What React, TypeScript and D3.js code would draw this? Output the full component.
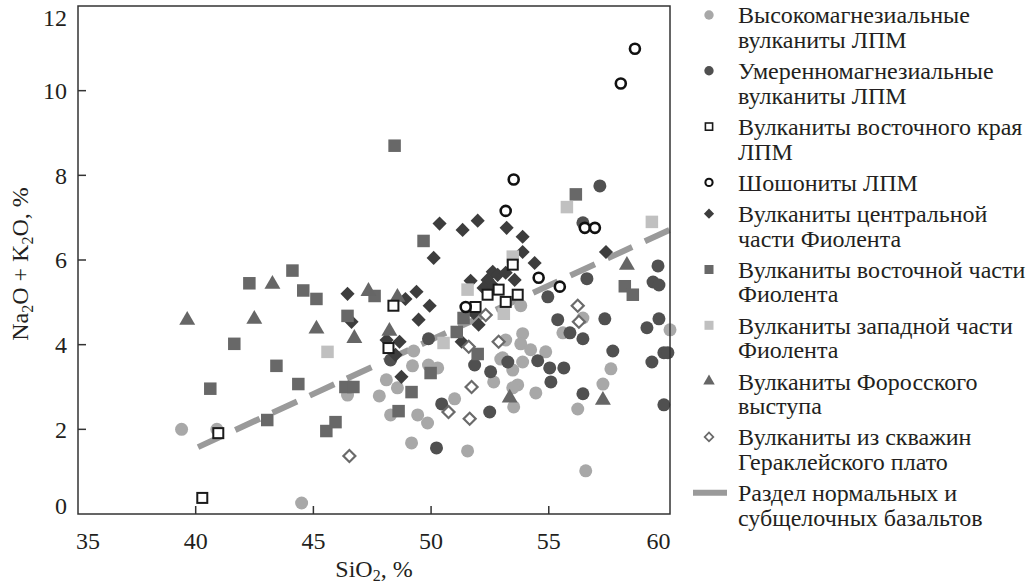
import React from "react";
import * as d3 from "d3";

// SiO2 (%), Na2O + K2O (%)
const highMg = [
  [39.4, 2.0], [40.9, 2.0], [44.5, 0.26], [46.45, 2.81], [48.1, 3.17], [48.57, 2.98],
  [47.8, 2.79], [48.28, 2.34], [49.21, 3.5], [49.26, 3.85], [49.89, 3.52], [50.28, 3.45],
  [49.43, 2.34], [49.85, 2.15], [49.17, 1.68], [51.0, 2.72], [51.55, 1.49], [52.66, 3.12],
  [52.96, 3.66], [53.17, 4.11], [53.81, 4.92], [53.89, 4.26], [53.81, 4.02], [54.23, 3.88],
  [54.87, 3.83], [53.04, 3.69], [53.89, 3.59], [53.47, 3.4], [53.68, 3.05], [53.47, 2.98],
  [54.45, 2.86], [53.51, 2.53], [56.45, 4.63], [55.6, 4.28], [57.64, 3.43], [57.3, 3.07],
  [56.23, 2.48], [56.57, 1.02], [60.15, 4.35],
];
const modMg = [
  [48.28, 3.64], [49.89, 4.14], [50.23, 1.56], [50.45, 2.6], [51.85, 3.52], [52.53, 3.36],
  [52.49, 2.41], [53.26, 3.59], [54.53, 3.62], [55.04, 3.45], [55.64, 3.45], [55.09, 3.12],
  [54.96, 5.13], [55.38, 4.59], [55.9, 4.28], [56.45, 4.14], [56.45, 2.84], [56.62, 5.56],
  [56.45, 6.88], [57.17, 7.75], [57.38, 4.61], [57.72, 3.85], [59.17, 4.4], [59.43, 5.48],
  [59.68, 5.41], [59.64, 5.86], [59.68, 4.61], [59.89, 3.81], [60.06, 3.81], [59.38, 3.59],
  [59.89, 2.58],
];
const eastEdge = [
  [40.28, 0.38], [40.96, 1.91], [48.4, 4.92], [48.19, 3.92], [51.89, 4.89], [52.4, 5.18],
  [52.87, 5.3], [53.17, 5.01], [53.68, 5.18], [53.47, 5.89],
];
const shoshonites = [
  [58.66, 10.99], [58.06, 10.17], [53.51, 7.9], [53.17, 7.16], [56.53, 6.76], [56.96, 6.76],
  [54.57, 5.58], [55.47, 5.37], [51.47, 4.89],
];
const centralFiolent = [
  [50.36, 6.86], [51.34, 6.71], [51.98, 6.93], [53.21, 6.76], [50.11, 6.05], [53.89, 6.55],
  [53.89, 6.19], [57.43, 6.19], [54.4, 5.93], [53.55, 5.53], [46.45, 5.2], [48.91, 5.08],
  [49.38, 5.25], [49.94, 4.92], [46.62, 4.54], [49.47, 4.59], [48.11, 4.11], [48.66, 4.07],
  [48.49, 3.76], [48.74, 3.24], [51.68, 5.51], [52.62, 5.72], [52.83, 5.65], [53.17, 5.7],
  [52.4, 5.53], [52.23, 5.34], [52.66, 5.37], [51.81, 4.75], [52.02, 4.47], [51.3, 4.07],
];
const eastFiolent = [
  [40.62, 2.96], [41.64, 4.02], [42.28, 5.45], [44.11, 5.75], [44.57, 5.28], [45.13, 5.08],
  [43.43, 3.5], [44.36, 3.07], [43.04, 2.22], [45.55, 1.96], [45.94, 2.17], [46.36, 3.0],
  [46.7, 3.0], [46.45, 4.68], [47.6, 5.15], [48.45, 8.7], [49.68, 6.45], [49.17, 2.88],
  [48.62, 2.43], [49.98, 3.33], [51.38, 4.63], [51.09, 4.3], [51.98, 3.78], [56.15, 7.55],
  [58.23, 5.38], [58.57, 5.18],
];
const westFiolent = [
  [45.6, 3.83], [50.53, 4.04], [51.55, 5.3], [53.09, 4.73], [53.47, 6.08], [55.77, 7.25],
  [59.38, 6.9],
];
const foros = [
  [39.64, 4.58], [42.49, 4.6], [43.26, 5.43], [45.13, 4.37], [46.74, 4.15], [47.34, 5.26],
  [48.57, 5.12], [48.23, 4.32], [53.34, 2.74], [57.3, 2.69], [58.32, 5.88],
];
const heraclea = [
  [46.53, 1.37], [50.74, 2.41], [51.64, 2.25], [51.72, 3.0], [51.6, 3.95], [52.32, 4.7],
  [52.87, 4.07], [56.23, 4.92], [56.28, 4.54],
];
const divideLine = [[40.1, 1.58], [60.2, 6.73]];

const xTicks = [35, 40, 45, 50, 55, 60];
const yTicks = [0, 2, 4, 6, 8, 10, 12];

const legendLabels = [
  ["Высокомагнезиальные", "вулканиты ЛПМ"],
  ["Умеренномагнезиальные", "вулканиты ЛПМ"],
  ["Вулканиты восточного края", "ЛПМ"],
  ["Шошониты ЛПМ"],
  ["Вулканиты центральной", "части Фиолента"],
  ["Вулканиты восточной части", "Фиолента"],
  ["Вулканиты западной части", "Фиолента"],
  ["Вулканиты Форосского", "выступа"],
  ["Вулканиты из скважин", "Гераклейского плато"],
  ["Раздел нормальных и", "субщелочных базальтов"],
];

const FONT = "'Liberation Serif', 'Times New Roman', serif";
const TEXT = "#231f20";

type Style = { shape: string; fill: string; stroke: string; sw: number };
const styles: Style[] = [
  { shape: "circle", fill: "#a8a8a8", stroke: "none", sw: 0 },
  { shape: "circle", fill: "#505050", stroke: "none", sw: 0 },
  { shape: "square", fill: "#ffffff", stroke: "#1a1a1a", sw: 2 },
  { shape: "circle", fill: "#ffffff", stroke: "#111111", sw: 2.6 },
  { shape: "diamond", fill: "#3d3d3d", stroke: "none", sw: 0 },
  { shape: "square", fill: "#686868", stroke: "none", sw: 0 },
  { shape: "square", fill: "#c0c0c0", stroke: "none", sw: 0 },
  { shape: "triangle", fill: "#666666", stroke: "none", sw: 0 },
  { shape: "diamond", fill: "#ffffff", stroke: "#6a6a6a", sw: 2.2 },
];

function Marker({ x, y, st, k }: { x: number; y: number; st: Style; k: number }) {
  const common = { fill: st.fill, stroke: st.stroke, strokeWidth: st.sw * (k < 1 ? 0.8 : 1) };
  if (st.shape === "circle") {
    const r = (st.stroke === "none" ? 6.5 : 5) * k;
    return <circle cx={x} cy={y} r={r} {...common} />;
  }
  if (st.shape === "square") {
    const s = (st.stroke === "none" ? 12.5 : 10) * k;
    return <rect x={x - s / 2} y={y - s / 2} width={s} height={s} {...common} />;
  }
  if (st.shape === "diamond") {
    const s = (st.stroke === "none" ? 10 : 8.5) * k;
    return (
      <rect x={-s / 2} y={-s / 2} width={s} height={s}
        transform={`translate(${x},${y}) rotate(45)`} {...common} />
    );
  }
  const path = d3.symbol().type(d3.symbolTriangle).size(110 * k * k)();
  return <path d={path || ""} transform={`translate(${x},${y})`} {...common} />;
}

export default function App() {
  const left = 78, right = 670, top = 6, bottom = 514;
  const x = d3.scaleLinear().domain([35, 60.15]).range([left, right]);
  const y = d3.scaleLinear().domain([0, 12]).range([bottom, top]);

  const series = [highMg, modMg, centralFiolent, eastFiolent, westFiolent, foros, eastEdge, shoshonites, heraclea];
  const seriesStyle = [0, 1, 4, 5, 6, 7, 2, 3, 8];

  const line = d3.line<number[]>().x(d => x(d[0])).y(d => y(d[1]));

  // legend layout
  let ly = 15;
  const legendRows = legendLabels.map((lines) => {
    const row = { y: ly, lines };
    ly += lines.length * 24.5 + 6.8;
    return row;
  });

  return (
    <svg width={1034} height={587} style={{ position: "absolute", left: 0, top: 0, background: "#fff" }}
      fontFamily={FONT}>
      <rect x={0} y={0} width={1034} height={587} fill="#fff" />
      <path d={line(divideLine) || ""} fill="none" stroke="#9a9a9a" strokeWidth={6}
        strokeDasharray="27 14" />
      {series.map((pts, si) => (
        <g key={si}>
          {pts.map((p, i) => (
            <Marker key={i} x={x(p[0])} y={y(p[1])} st={styles[seriesStyle[si]]} k={1} />
          ))}
        </g>
      ))}
      <rect x={left} y={top} width={right - left} height={bottom - top} fill="none" stroke="#333" strokeWidth={1.5} />
      {xTicks.map((t, i) => (
        <g key={t}>
          {i > 0 && i < xTicks.length - 1 && (
            <line x1={x(t)} x2={x(t)} y1={bottom} y2={bottom - 8} stroke="#333" strokeWidth={1.5} />
          )}
          <text x={x(t) + (i === 0 ? 10 : i === xTicks.length - 1 ? -8 : 0)} y={bottom + 35}
            textAnchor="middle" fontSize={24} fill={TEXT}>{t}</text>
        </g>
      ))}
      {yTicks.map((t, i) => (
        <g key={t}>
          {i > 0 && i < yTicks.length - 1 && (
            <line x1={left} x2={left + 8} y1={y(t)} y2={y(t)} stroke="#333" strokeWidth={1.5} />
          )}
          <text x={left - 11} y={y(t) + (i === 0 ? -8 : i === yTicks.length - 1 ? 12 : 0)}
            dy="0.35em" textAnchor="end" fontSize={24} fill={TEXT}>{t}</text>
        </g>
      ))}
      <text x={(left + right) / 2} y={577} textAnchor="middle" fontSize={24} fill={TEXT}>
        SiO<tspan fontSize={16} dy={4}>2</tspan><tspan dy={-4}>, %</tspan>
      </text>
      <text transform={`translate(28,${(top + bottom) / 2 + 4}) rotate(-90)`} textAnchor="middle"
        fontSize={24} fill={TEXT}>
        Na<tspan fontSize={16} dy={5}>2</tspan><tspan dy={-5}>O + K</tspan>
        <tspan fontSize={16} dy={5}>2</tspan><tspan dy={-5}>O, %</tspan>
      </text>
      {legendRows.map((row, i) => (
        <g key={i}>
          {i < styles.length ? (
            <Marker x={709} y={row.y} st={styles[i]} k={0.72} />
          ) : (
            <line x1={693} x2={727} y1={row.y} y2={row.y} stroke="#9a9a9a" strokeWidth={6} />
          )}
          {row.lines.map((t, j) => (
            <text key={j} x={738} y={row.y + j * 24.5} dy="0.35em" fontSize={24} fill={TEXT}>{t}</text>
          ))}
        </g>
      ))}
    </svg>
  );
}
